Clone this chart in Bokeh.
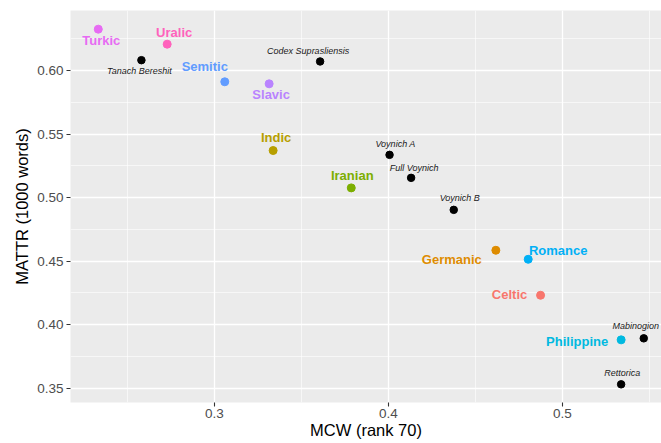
from bokeh.plotting import figure
from bokeh.models import ColumnDataSource, SingleIntervalTicker, Range1d, PrintfTickFormatter
from bokeh.core.properties import value
from bokeh.embed import file_html
from bokeh.resources import INLINE

# ---- data ----
families = ["Turkic", "Uralic", "Semitic", "Slavic", "Indic", "Iranian",
            "Germanic", "Romance", "Celtic", "Philippine"]
family_mcw = [0.2332, 0.2728, 0.3059, 0.3314, 0.3337, 0.3786,
              0.4617, 0.4803, 0.4874, 0.5337]
family_mattr = [0.6325, 0.6207, 0.5911, 0.5895, 0.5370, 0.5076,
                0.4585, 0.4514, 0.4231, 0.3880]

manuscripts = ["Tanach Bereshit", "Codex Suprasliensis", "Voynich A",
               "Full Voynich", "Voynich B", "Mabinogion", "Rettorica"]
ms_mcw = [0.2580, 0.3607, 0.4006, 0.4130, 0.4375, 0.5467, 0.5337]
ms_mattr = [0.6081, 0.6071, 0.5336, 0.5155, 0.4903, 0.3892, 0.3530]

x_title = "MCW (rank 70)"
y_title = "MATTR (1000 words)"

# ---- styles ----
family_colors = ["#E76BF3", "#FF62BC", "#619CFF", "#B983FF", "#B79F00", "#7CAE00",
                 "#DE8C00", "#00B0F6", "#F8766D", "#00B9E0"]
family_dx = [3, 7, -20, 2, 3, 1, -44, 30, -31, -44]
family_dy = [11, -12, -15, 11, -13, -12, 9, -9, -1, 2]
ms_dx = [-2, -12, 6, 3, 6, -8, 1]
ms_dy = [11, -10, -11, -10, -12, -12, -11]

FONT = "Liberation Sans"

fam_src = ColumnDataSource(dict(x=family_mcw, y=family_mattr, name=families,
                                color=family_colors, dx=family_dx, dy=family_dy))
ms_src = ColumnDataSource(dict(x=ms_mcw, y=ms_mattr, name=manuscripts,
                               dx=ms_dx, dy=ms_dy))

p = figure(width=661, height=443, output_backend="svg", toolbar_location=None,
           x_range=Range1d(0.21724, 0.5569), y_range=Range1d(0.3387, 0.6472),
           min_border_left=70, min_border_right=0, min_border_top=10,
           min_border_bottom=41)

p.background_fill_color = "#EBEBEB"
p.border_fill_color = "white"
p.outline_line_color = None

p.xaxis.ticker = SingleIntervalTicker(interval=0.1, num_minor_ticks=2)
p.yaxis.ticker = SingleIntervalTicker(interval=0.05, num_minor_ticks=2)
p.xaxis.formatter = PrintfTickFormatter(format="%.1f")
p.yaxis.formatter = PrintfTickFormatter(format="%.2f")

for g in (p.xgrid, p.ygrid):
    g.grid_line_color = "white"
    g.grid_line_width = 1.3
    g.minor_grid_line_color = "white"
    g.minor_grid_line_width = 0.6

for ax in (p.xaxis, p.yaxis):
    ax.axis_line_color = None
    ax.major_tick_line_color = "#333333"
    ax.major_tick_line_width = 1.1
    ax.major_tick_out = 4
    ax.major_tick_in = 0
    ax.minor_tick_line_color = None
    ax.major_label_text_font = FONT
    ax.major_label_text_font_size = "13.5px"
    ax.major_label_text_color = "#4D4D4D"
    ax.axis_label_text_font = FONT
    ax.axis_label_text_font_size = "16.5px"
    ax.axis_label_text_font_style = "normal"
    ax.axis_label_text_color = "black"

p.xaxis.axis_label = x_title
p.yaxis.axis_label = y_title
p.xaxis.major_label_standoff = 2
p.xaxis.axis_label_standoff = 0
p.yaxis.major_label_standoff = 3
p.yaxis.axis_label_standoff = 3

p.scatter("x", "y", source=fam_src, size=8, color="color")
p.scatter("x", "y", source=ms_src, size=7.5, color="black")

p.text("x", "y", text="name", source=fam_src, x_offset="dx", y_offset="dy",
       text_align="center", text_baseline="middle", text_color="color",
       text_font=value(FONT), text_font_style="bold", text_font_size="13px")
p.text("x", "y", text="name", source=ms_src, x_offset="dx", y_offset="dy",
       text_align="center", text_baseline="middle", text_color="#1A1A1A",
       text_font=value(FONT), text_font_style="italic", text_font_size="9px")

open("out.html", "w").write(file_html(p, INLINE))
